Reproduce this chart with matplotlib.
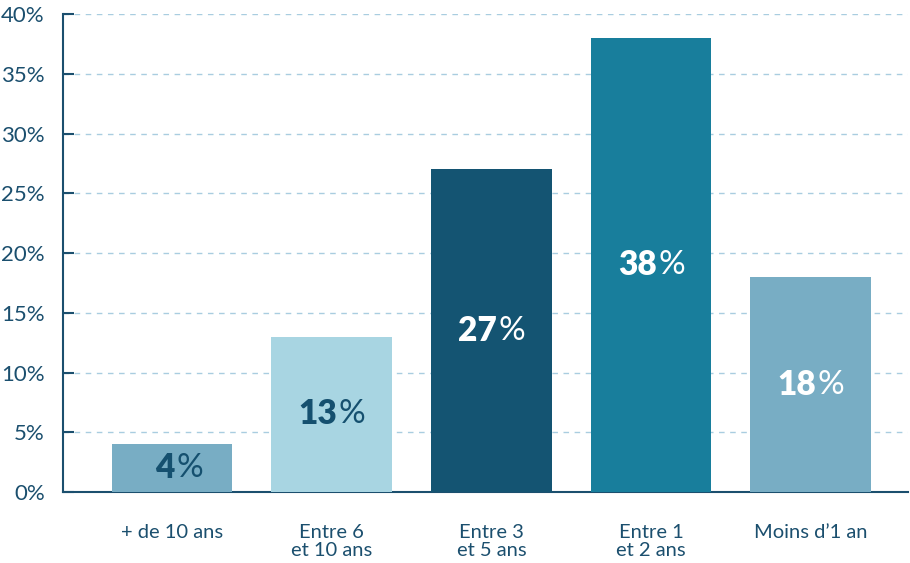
import matplotlib.pyplot as plt
import numpy as np

categories = ["+ de 10 ans", "Entre 6\net 10 ans", "Entre 3\net 5 ans", "Entre 1\net 2 ans", "Moins d\u20191 an"]
values = [4, 13, 27, 38, 18]
bar_colors = ["#78adc4", "#a8d5e2", "#145472", "#187e9c", "#78adc4"]
label_colors = ["#15506f", "#15506f", "white", "white", "white"]
yticks = [0, 5, 10, 15, 20, 25, 30, 35, 40]

dark = "#1b4f6e"
plt.rcParams['font.family'] = ['Lato', 'DejaVu Sans']

fig = plt.figure(figsize=(9.1, 5.63), dpi=100)
ax = fig.add_axes([0.069, 0.126, 0.929, 0.849])

x = np.arange(len(categories))
ax.bar(x, values, width=0.756, color=bar_colors, zorder=3)

for xi, v, c in zip(x, values, label_colors):
    # number bold, percent sign regular, split a little right of bar centre
    split = 4 if v >= 10 else 2
    ax.annotate(str(v), (xi, v / 2), xytext=(split, 0), textcoords="offset points",
                ha="right", va="center", fontsize=24, fontweight="heavy", color=c, zorder=4)
    ax.annotate("%", (xi, v / 2), xytext=(split + 1, 0), textcoords="offset points",
                ha="left", va="center", fontsize=24, fontweight="normal", color=c, zorder=4)

ax.set_xlim(-0.684, 4.61)
ax.set_ylim(0, 40)
ax.set_yticks(yticks)
ax.set_yticklabels([f"{t}%" for t in yticks])
ax.set_xticks(x)
ax.set_xticklabels(categories, linespacing=1.1)

ax.yaxis.grid(True, linestyle=(0, (4, 4)), color="#a9cde0", linewidth=1, zorder=0)
for s in ["top", "right"]:
    ax.spines[s].set_visible(False)
ax.spines["left"].set_color(dark)
ax.spines["bottom"].set_color(dark)
ax.spines["left"].set_linewidth(1.5)
ax.spines["bottom"].set_linewidth(1.5)
ax.tick_params(axis="y", direction="in", length=8, width=1.5, color=dark,
               labelcolor=dark, labelsize=16, pad=13)
ax.tick_params(axis="x", length=0, labelcolor=dark, labelsize=14.5, pad=23)
for lab in ax.get_xticklabels():
    lab.set_verticalalignment("top")

fig.savefig("out.png", dpi=100)
